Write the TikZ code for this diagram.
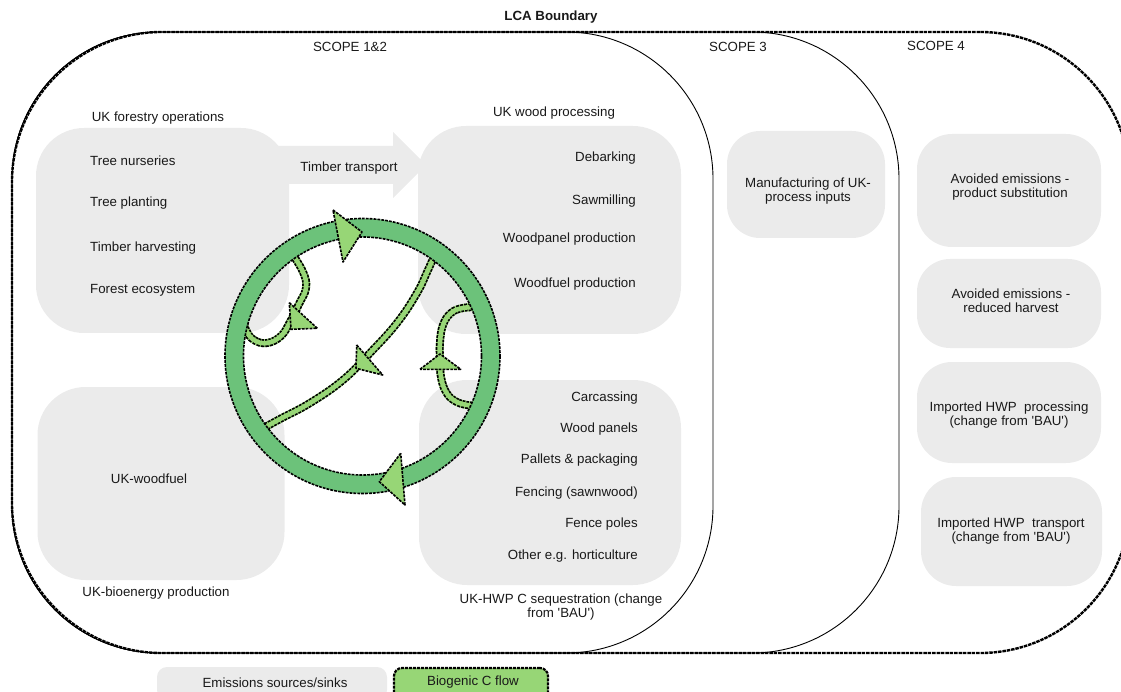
\documentclass[tikz,border=0pt]{standalone}
\usepackage{fontspec}
\setmainfont{Liberation Sans}
\definecolor{boxgray}{RGB}{235,235,235}
\definecolor{ringgreen}{RGB}{108,194,122}
\definecolor{lightgreen}{RGB}{151,214,118}
\begin{document}
\begin{tikzpicture}[x=1pt,y=-1pt,
  txt/.style={font=\fontsize{13.3}{14.2}\selectfont, inner sep=0pt, align=center, text=black!90},
  graybox/.style={fill=boxgray, draw=none, rounded corners=#1, inner sep=0pt},
  graybox/.default=48pt,
  scopebox/.style={draw=black, line width=0.9pt, rounded corners=147pt, inner sep=0pt},
  boundbox/.style={draw=black, line width=2.4pt, dash pattern=on 3.5pt off 0.9pt, rounded corners=150pt, inner sep=0pt},
  flowline/.style={draw=black, line width=1.6pt, dash pattern=on 2.8pt off 1.1pt},
  arrowhd/.style={fill=lightgreen, flowline, line join=round},
  band/.style={draw=black, line width=8pt, dash pattern=on 2.8pt off 1.1pt,
    preaction={draw=lightgreen, line width=8pt, solid},
    postaction={draw=lightgreen, line width=4.6pt, solid}},
]
\useasboundingbox (0,0) rectangle (1121,692);

% scope containers and LCA boundary
\node[scopebox, minimum width=887, minimum height=621] (scope3) at (455.5,342.5) {};
\node[scopebox, minimum width=701, minimum height=621] (scope12) at (362.5,342.5) {};
\node[boundbox, minimum width=1118, minimum height=621] (lca) at (571,342.5) {};

\node[txt, font=\fontsize{13.3}{14.2}\selectfont\bfseries] (lcalabel) at (551,17) {LCA Boundary};
\node[txt] (s12) at (350,47) {SCOPE 1\&2};
\node[txt] (s3) at (738,47) {SCOPE 3};
\node[txt] (s4) at (936,46) {SCOPE 4};

% timber transport block arrow
\fill[boxgray] (275,146) -- (393,146) -- (393,132) -- (426,165) -- (393,198) -- (393,184) -- (275,184) -- cycle;

% gray boxes
\node[graybox, minimum width=253, minimum height=205] (forest) at (162.5,230.5) {};
\node[graybox, minimum width=263, minimum height=208] (woodproc) at (549.5,230) {};
\node[graybox, minimum width=247, minimum height=193] (woodfuel) at (161,483.5) {};
\node[graybox, minimum width=262, minimum height=205] (hwp) at (550,482.5) {};
\node[graybox=33pt, minimum width=158, minimum height=107] (manuf) at (806,184.5) {};
\node[graybox=35pt, minimum width=184, minimum height=113] (avoid1) at (1009,190.5) {};
\node[graybox=33pt, minimum width=184, minimum height=89] (avoid2) at (1009,303.5) {};
\node[graybox=35pt, minimum width=184, minimum height=101] (imp1) at (1009,412.5) {};
\node[graybox=35pt, minimum width=181, minimum height=109] (imp2) at (1011.5,531.5) {};

% texts
\node[txt] (forestlbl) at (158,118) {UK forestry operations};
\node[txt, anchor=west] (f1) at (90,161) {Tree nurseries};
\node[txt, anchor=west] (f2) at (90,203) {Tree planting};
\node[txt, anchor=west] (f3) at (90,248) {Timber harvesting};
\node[txt, anchor=west] (f4) at (90,290) {Forest ecosystem};
\node[txt] (ttlbl) at (349,168) {Timber transport};
\node[txt] (wplbl) at (554,113) {UK wood processing};
\node[txt, anchor=east] (w1) at (636,158) {Debarking};
\node[txt, anchor=east] (w2) at (636,201) {Sawmilling};
\node[txt, anchor=east] (w3) at (636,239) {Woodpanel production};
\node[txt, anchor=east] (w4) at (636,284) {Woodfuel production};
\node[txt] (wflbl) at (149,479) {UK-woodfuel};
\node[txt] (belbl) at (156,593) {UK-bioenergy production};
\node[txt, anchor=east] (h1) at (638,398) {Carcassing};
\node[txt, anchor=east] (h2) at (638,429) {Wood panels};
\node[txt, anchor=east] (h3) at (638,460) {Pallets \& packaging};
\node[txt, anchor=east] (h4) at (638,493) {Fencing (sawnwood)};
\node[txt, anchor=east] (h5) at (638,524) {Fence poles};
\node[txt, anchor=east] (h6) at (638,556) {Other e.g. horticulture};
\node[txt] (hwplbl) at (561,607) {UK-HWP C sequestration (change\\from \textquotesingle BAU\textquotesingle)};
\node[txt] (manuflbl) at (808,191) {Manufacturing of UK-\\process inputs};
\node[txt] (av1lbl) at (1010,187) {Avoided emissions -\\product substitution};
\node[txt] (av2lbl) at (1011,301) {Avoided emissions -\\reduced harvest};
\node[txt] (im1lbl) at (1009,415) {Imported HWP\ \ processing\\(change from \textquotesingle BAU\textquotesingle)};
\node[txt] (im2lbl) at (1011,531) {Imported HWP\ \ transport\\(change from \textquotesingle BAU\textquotesingle)};

% biogenic carbon cycle: inner flows
\coordinate (ringc) at (362.5,356);
\draw[band] plot[smooth, tension=0.7] coordinates {(291,252) (303,272) (306,288) (299,304) (290,322) (281,336) (267,343) (254,340) (246,330) (243,318)};
\draw[band] plot[smooth, tension=0.7] coordinates {(437,250) (428,270) (417,293) (397,323) (370,353) (343,380) (310,403) (280,419) (258,431)};
\draw[band] plot[smooth, tension=0.7] coordinates {(479,307) (463,308) (451,313) (443,325) (440,342) (440,360) (441,377) (446,392) (455,401) (467,405) (479,406)};

% ring
\fill[ringgreen, even odd rule] (ringc) circle[radius=137.5] (ringc) circle[radius=119];
\draw[flowline] (ringc) circle[radius=137.5];
\draw[flowline] (ringc) circle[radius=119];

% arrowheads
\filldraw[arrowhd] (333,210) -- (362,232) -- (343,262) -- cycle;
\filldraw[arrowhd] (400.7,453.3) -- (379.3,481.7) -- (405,505) -- cycle;
\filldraw[arrowhd] (289.3,302.7) -- (317.3,328.3) -- (291,329.3) -- cycle;
\filldraw[arrowhd] (356.7,345) -- (382.7,375) -- (356,368.3) -- cycle;
\filldraw[arrowhd] (420,369.3) -- (440,354) -- (460.7,369.3) -- cycle;

% legend
\node[graybox=10pt, minimum width=230, minimum height=33] (legsrc) at (272,683.5) {};
\node[txt] (legsrclbl) at (275,683) {Emissions sources/sinks};
\node[fill=lightgreen, draw=black, line width=2.2pt, dash pattern=on 3pt off 1pt, rounded corners=8pt, minimum width=154, minimum height=32, inner sep=0pt] (legflow) at (471,684) {};
\node[txt] (legflowlbl) at (473,682) {Biogenic C flow};
\end{tikzpicture}
\end{document}
